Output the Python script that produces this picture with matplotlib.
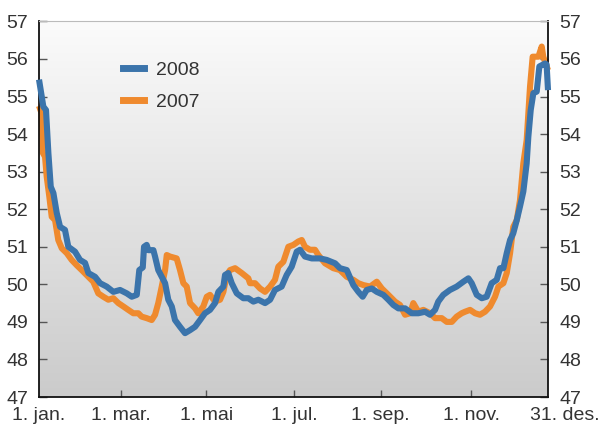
import numpy as np
from matplotlib import pyplot as plt
from matplotlib.colors import LinearSegmentedColormap

plt.rcParams['font.family'] = ['Liberation Sans Narrow', 'DejaVu Sans Condensed',
                               'Liberation Sans', 'DejaVu Sans']

# day of year, value
days_2008 = [0, 3.1, 5.0, 6.7, 8.4, 10.3, 12.7, 15.1, 18.6, 21.0, 25.8, 29.4, 33.0, 35.4,
             40.2, 43.8, 48.5, 53.3, 58.1, 62.9, 66.5, 70.1, 71.9, 74.4, 75.3, 77.2, 78.4,
             82.0, 83.2, 85.5, 88.0, 90.4, 92.7, 95.2, 97.5, 101.1, 104.7, 108.3, 111.9,
             115.5, 119.0, 122.6, 126.2, 128.6, 132.2, 133.4, 135.7, 138.2, 141.8, 146.5,
             150.1, 153.7, 157.3, 162.1, 165.7, 169.2, 174.0, 177.6, 181.2, 184.8, 187.2,
             190.7, 195.6, 201.5, 206.3, 212.3, 215.8, 220.7, 225.4, 229.0, 232.1, 235.0,
             238.6, 242.2, 246.9, 250.5, 254.1, 257.7, 262.5, 267.3, 272.0, 276.8, 280.4,
             284.0, 286.3, 289.9, 294.7, 299.5, 304.3, 307.9, 310.3, 313.9, 317.5, 321.0,
             324.6, 328.2, 330.6, 333.0, 335.4, 337.8, 340.1, 342.6, 344.9, 347.3, 349.7,
             350.9, 352.6, 354.5, 356.9, 358.8, 362.9, 364.0, 365.0]
vals_2008 = [55.45, 54.73, 54.64, 53.5, 52.6, 52.43, 51.9, 51.53, 51.45, 51.0, 50.87, 50.65,
             50.57, 50.3, 50.2, 50.03, 49.94, 49.8, 49.85, 49.76, 49.67, 49.72, 50.38, 50.45,
             51.0, 51.05, 50.91, 50.91, 50.74, 50.38, 50.2, 50.03, 49.59, 49.41, 49.05, 48.87,
             48.7, 48.78, 48.87, 49.05, 49.23, 49.32, 49.5, 49.8, 49.94, 50.25, 50.3, 50.03,
             49.76, 49.63, 49.63, 49.54, 49.59, 49.5, 49.59, 49.85, 49.94, 50.25, 50.47, 50.87,
             50.92, 50.74, 50.69, 50.69, 50.65, 50.56, 50.43, 50.38, 49.98, 49.8, 49.67, 49.85,
             49.89, 49.8, 49.72, 49.59, 49.45, 49.36, 49.36, 49.23, 49.23, 49.27, 49.19, 49.32,
             49.54, 49.72, 49.85, 49.94, 50.07, 50.16, 50.03, 49.72, 49.63, 49.67, 50.03,
             50.12, 50.43, 50.43, 50.83, 51.18, 51.36, 51.71, 52.07, 52.47, 53.22, 53.93,
             54.64, 55.09, 55.13, 55.8, 55.88, 55.85, 55.17]

days_2007 = [0, 1.9, 2.7, 4.3, 5.5, 7.4, 9.1, 11.5, 13.8, 16.3, 19.9, 23.4, 27.0, 30.6,
             35.4, 38.9, 42.5, 46.1, 49.7, 53.3, 56.9, 60.5, 64.0, 67.6, 71.2, 73.6, 77.2,
             80.8, 83.2, 85.5, 88.0, 90.4, 91.6, 93.9, 98.7, 101.1, 103.5, 105.9, 108.3,
             111.9, 114.2, 117.8, 120.3, 122.6, 126.2, 129.8, 132.2, 134.6, 137.0, 140.6,
             145.4, 150.1, 151.3, 154.9, 158.5, 162.1, 165.7, 169.2, 171.6, 175.2, 178.8,
             182.4, 185.9, 188.4, 190.7, 194.3, 197.9, 200.3, 205.1, 211.0, 215.8, 220.7,
             225.4, 229.0, 232.6, 237.4, 242.2, 245.8, 250.5, 255.3, 258.9, 262.5, 266.1,
             268.4, 272.0, 275.6, 280.4, 284.0, 288.8, 292.4, 296.0, 299.5, 303.1, 305.5,
             309.1, 312.7, 316.2, 319.8, 323.4, 327.0, 329.4, 333.0, 335.4, 337.8, 340.1,
             342.6, 344.9, 347.3, 349.7, 352.1, 354.0, 358.1, 360.5, 361.6, 365.0]
vals_2007 = [54.75, 54.55, 53.5, 53.4, 52.87, 52.33, 51.8, 51.71, 51.18, 50.96, 50.83, 50.65,
             50.51, 50.38, 50.2, 50.07, 49.76, 49.67, 49.59, 49.63, 49.5, 49.41, 49.32, 49.23,
             49.23, 49.14, 49.1, 49.05, 49.19, 49.5, 49.94, 50.38, 50.78, 50.74, 50.69, 50.38,
             50.03, 49.94, 49.5, 49.36, 49.23, 49.41, 49.67, 49.72, 49.54, 49.59, 49.8, 50.25,
             50.38, 50.43, 50.3, 50.16, 50.03, 50.03, 49.89, 49.8, 49.94, 50.12, 50.47, 50.6,
             51.0, 51.05, 51.14, 51.18, 51.0, 50.92, 50.92, 50.78, 50.56, 50.43, 50.38, 50.2,
             50.12, 50.03, 49.98, 49.94, 50.07, 49.89, 49.72, 49.54, 49.45, 49.19, 49.23, 49.5,
             49.27, 49.32, 49.23, 49.1, 49.1, 49.0, 49.0, 49.14, 49.23, 49.27, 49.32, 49.23,
             49.19, 49.27, 49.41, 49.67, 49.94, 50.03, 50.3, 50.83, 51.53, 51.71, 52.24,
             53.22, 53.84, 55.26, 56.06, 56.06, 56.33, 56.06, 55.7]

tick_days = [0, 59, 120, 183, 245, 310]
tick_labels = ['1. jan.', '1. mar.', '1. mai', '1. jul.', '1. sep.', '1. nov.']
end_label = '31. des.'
yticks = list(range(47, 58))

blue = '#3b74ab'
orange = '#ef8a2e'
txt = '#333333'
fs = 14

fig = plt.figure(figsize=(6.06, 4.33), dpi=100)
ax = fig.add_axes([0.0644, 0.0831, 0.8399, 0.8675])

# grey gradient behind the lines
cmap = LinearSegmentedColormap.from_list('bg', ['#fbfbfb', '#cbcbcb'])
ax.imshow(np.linspace(0, 1, 256).reshape(-1, 1), cmap=cmap, aspect='auto',
          extent=[0, 365, 47, 57], origin='upper', zorder=0)

ax.plot(days_2007, vals_2007, color=orange, lw=4.4, solid_capstyle='butt', zorder=2, clip_on=False)
ax.plot(days_2008, vals_2008, color=blue, lw=4.4, solid_capstyle='butt', zorder=3, clip_on=False)

ax.set_xlim(0, 365)
ax.set_ylim(47, 57)

ax.set_yticks(yticks)
ax.set_xticks(tick_days[1:])
ax.set_xticklabels(tick_labels[1:])
ax.tick_params(axis='y', direction='in', length=6, width=1, color='#555555',
               labelsize=fs, labelcolor=txt, pad=8, left=True, right=True,
               labelleft=True, labelright=True)
ax.tick_params(axis='x', direction='in', length=5, width=1, color='#555555',
               labelsize=fs, labelcolor=txt, pad=7)
for lab, d in ((tick_labels[0], tick_days[0]), (end_label, 377)):
    ax.annotate(lab, xy=(d, 0), xycoords=('data', 'axes fraction'), xytext=(0, -7.5),
                textcoords='offset points', ha='center', va='top', fontsize=fs,
                color=txt, annotation_clip=False)

for side in ('left', 'right', 'bottom'):
    ax.spines[side].set_color('#111111')
    ax.spines[side].set_linewidth(1.3)
ax.spines['top'].set_color('#bbbbbb')
ax.spines['top'].set_linewidth(0.8)

ax.plot([], [], color=blue, lw=5, label='2008')
ax.plot([], [], color=orange, lw=5, label='2007')
h, l = ax.get_legend_handles_labels()
ax.legend(h[-2:], l[-2:], loc='upper left', bbox_to_anchor=(0.13, 0.94), frameon=False,
          fontsize=fs, handlelength=1.1, handletextpad=0.6, labelspacing=0.75,
          labelcolor=txt)

fig.savefig('out.png', dpi=100)
